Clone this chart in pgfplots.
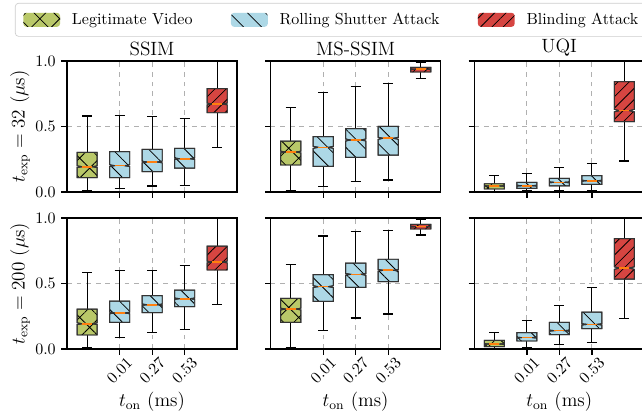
\documentclass[border=0pt]{standalone}
\usepackage{pgfplots}
\pgfplotsset{compat=1.18}
\usepgfplotslibrary{groupplots,statistics}
\usetikzlibrary{patterns.meta}
\definecolor{legitc}{RGB}{185,200,105}
\definecolor{rollc}{RGB}{173,216,230}
\definecolor{blindc}{RGB}{214,69,65}
\definecolor{medc}{RGB}{255,127,14}
\definecolor{gridc}{RGB}{176,176,176}
\tikzset{
  hatchX/.style={pattern={Hatch[angle=45,distance=8.8pt,line width=0.5pt]}, pattern color=black},
  hatchB/.style={pattern={Lines[angle=-45,distance=8pt,line width=0.5pt]}, pattern color=black},
  hatchS/.style={pattern={Lines[angle=45,distance=5pt,line width=0.5pt]}, pattern color=black},
}
\pgfplotsset{
  boxplot/draw/box/.code={%
    \pgfkeys{/pgf/fpu=false}%
    \pgfmathsetmacro\bxlo{\pgfplotsboxplotvalue{lower quartile}}%
    \pgfmathsetmacro\bxhi{\pgfplotsboxplotvalue{upper quartile}}%
    \pgfmathsetmacro\bxmd{\pgfplotsboxplotvalue{median}}%
    \pgfmathsetmacro\bxcl{\bxmd-0.025*(\bxhi-\bxlo)-0.002}%
    \pgfmathsetmacro\bxch{\bxmd+0.025*(\bxhi-\bxlo)+0.002}%
    \draw[/pgfplots/boxplot/every box/.try]
      (boxplot box cs:\bxlo,0) -- (boxplot box cs:\bxcl,0) -- (boxplot box cs:\bxmd,0.25)
      -- (boxplot box cs:\bxch,0) -- (boxplot box cs:\bxhi,0) -- (boxplot box cs:\bxhi,1)
      -- (boxplot box cs:\bxch,1) -- (boxplot box cs:\bxmd,0.75) -- (boxplot box cs:\bxcl,1)
      -- (boxplot box cs:\bxlo,1) -- cycle;
  },
  boxplot/draw/median/.code={%
    \draw[/pgfplots/boxplot/every median/.try]
      (boxplot box cs:\pgfplotsboxplotvalue{median},0.25) -- (boxplot box cs:\pgfplotsboxplotvalue{median},0.75);
  },
  nbox/.style 2 args={forget plot, draw=black, line width=0.7pt,
    boxplot/draw direction=y,
    boxplot/box extend=0.62, boxplot/whisker extend=0.31,
    boxplot/every box/.style={fill=#1, draw=black!80, line width=0.6pt, postaction={#2}},
    boxplot/every whisker/.style={draw=black, line width=0.7pt},
    boxplot/every median/.style={draw=medc, line width=1pt}},
}
\newcommand{\LB}[6]{\addplot[nbox={legitc}{hatchX}, boxplot prepared={draw position=#1, lower whisker=#2, lower quartile=#3, median=#4, upper quartile=#5, upper whisker=#6}] coordinates {};}
\newcommand{\RB}[6]{\addplot[nbox={rollc}{hatchB}, boxplot prepared={draw position=#1, lower whisker=#2, lower quartile=#3, median=#4, upper quartile=#5, upper whisker=#6}] coordinates {};}
\newcommand{\BB}[6]{\addplot[nbox={blindc}{hatchS}, boxplot prepared={draw position=#1, lower whisker=#2, lower quartile=#3, median=#4, upper quartile=#5, upper whisker=#6}] coordinates {};}
\begin{document}
\begin{tikzpicture}
\begin{groupplot}[
  group style={group size=3 by 2, horizontal sep=21pt, vertical sep=16.25pt,
    xticklabels at=edge bottom, yticklabels at=edge left},
  width=106.25pt, height=81.875pt, scale only axis,
  xmin=-0.62, xmax=4.61, ymin=0, ymax=1,
  ytick={0,0.5,1}, xtick={1,2,3}, xticklabels={0.01,0.27,0.53},
  tick align=outside, tick pos=left, major tick length=3.5pt,
  xmajorgrids, ymajorgrids, grid style={dashed, gridc, line width=0.5pt},
  axis line style={line width=0.8pt},
  every tick/.style={black, line width=0.8pt},
  yticklabel style={/pgf/number format/.cd, fixed, fixed zerofill, precision=1},
  xticklabel style={yshift=-10pt, rotate=45, anchor=center},
  title style={font=\large, yshift=-6.6pt},
  every axis y label/.style={at={(axis description cs:-0.2165,0.5)}, anchor=south, rotate=90, inner sep=0pt, font=\large},
  every axis x label/.style={at={(axis description cs:0.5,0)}, anchor=center, yshift=-33pt, font=\large},
  clip=false,
]
\nextgroupplot[title={SSIM}, ylabel={$t_{\mathrm{exp}} = 32$ ($\mu$s)},
  legend style={at={(-0.306,1.443)}, anchor=north west, draw=black!20, rounded corners=2pt,
    inner xsep=5pt, inner ysep=4pt, legend columns=3, font=\normalsize,
    /tikz/every odd column/.append style={column sep=5.4pt},
    /tikz/every even column/.append style={column sep=22pt}},
  legend cell align=left]
\addlegendimage{legend image code/.code={\fill[legitc, draw=none] (0pt,-4.4pt) rectangle (23pt,4.4pt); \path[hatchX, draw=none] (0pt,-4.4pt) rectangle (23pt,4.4pt);}}
\addlegendentry{Legitimate Video}
\addlegendimage{legend image code/.code={\fill[rollc, draw=none] (0pt,-4.4pt) rectangle (23pt,4.4pt); \path[hatchB, draw=none] (0pt,-4.4pt) rectangle (23pt,4.4pt);}}
\addlegendentry{Rolling Shutter Attack}
\addlegendimage{legend image code/.code={\fill[blindc, draw=none] (0pt,-4.4pt) rectangle (23pt,4.4pt); \path[hatchS, draw=none] (0pt,-4.4pt) rectangle (23pt,4.4pt);}}
\addlegendentry{Blinding Attack}
\LB{0}{0.008}{0.109}{0.193}{0.303}{0.58}
\RB{1}{0.025}{0.109}{0.201}{0.308}{0.583}
\RB{2}{0.046}{0.155}{0.229}{0.326}{0.575}
\RB{3}{0.051}{0.183}{0.254}{0.333}{0.56}
\BB{4}{0.341}{0.605}{0.672}{0.789}{1.0}
\nextgroupplot[title={MS-SSIM}]
\LB{0}{0.008}{0.206}{0.305}{0.389}{0.644}
\RB{1}{0.041}{0.196}{0.341}{0.422}{0.758}
\RB{2}{0.081}{0.265}{0.397}{0.483}{0.804}
\RB{3}{0.092}{0.282}{0.41}{0.501}{0.827}
\BB{4}{0.868}{0.916}{0.937}{0.952}{0.99}
\nextgroupplot[title={UQI}]
\LB{0}{0.002}{0.023}{0.046}{0.063}{0.127}
\RB{1}{0.008}{0.028}{0.048}{0.074}{0.143}
\RB{2}{0.01}{0.046}{0.074}{0.104}{0.186}
\RB{3}{0.01}{0.059}{0.086}{0.125}{0.219}
\BB{4}{0.237}{0.537}{0.621}{0.842}{1.0}
\nextgroupplot[ylabel={$t_{\mathrm{exp}} = 200$ ($\mu$s)}, xlabel={$t_{\mathrm{on}}$ (ms)}]
\LB{0}{0.008}{0.107}{0.193}{0.305}{0.583}
\RB{1}{0.089}{0.204}{0.275}{0.366}{0.601}
\RB{2}{0.127}{0.277}{0.338}{0.407}{0.601}
\RB{3}{0.15}{0.323}{0.384}{0.45}{0.636}
\BB{4}{0.338}{0.603}{0.664}{0.786}{1.0}
\nextgroupplot[xlabel={$t_{\mathrm{on}}$ (ms)}]
\LB{0}{0.008}{0.204}{0.305}{0.387}{0.646}
\RB{1}{0.143}{0.364}{0.476}{0.567}{0.863}
\RB{2}{0.237}{0.471}{0.57}{0.656}{0.898}
\RB{3}{0.267}{0.514}{0.601}{0.685}{0.906}
\BB{4}{0.87}{0.916}{0.934}{0.952}{0.99}
\nextgroupplot[xlabel={$t_{\mathrm{on}}$ (ms)}]
\LB{0}{0.0}{0.018}{0.038}{0.066}{0.125}
\RB{1}{0.013}{0.061}{0.087}{0.125}{0.216}
\RB{2}{0.033}{0.109}{0.14}{0.204}{0.333}
\RB{3}{0.048}{0.155}{0.188}{0.282}{0.471}
\BB{4}{0.234}{0.534}{0.618}{0.842}{1.0}
\end{groupplot}
\pgfresetboundingbox
\path[use as bounding box] ([xshift=-41.875pt,yshift=38.125pt]group c1r1.north west) rectangle ++(401.25pt,-260.625pt);
\end{tikzpicture}
\end{document}
